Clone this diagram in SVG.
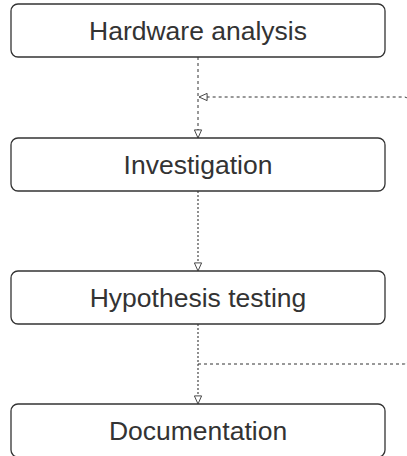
<svg xmlns="http://www.w3.org/2000/svg" width="407" height="456" viewBox="0 0 407 456">
<style>
.box{fill:#fff;stroke:#333;stroke-width:1.3}
.lbl{font-family:"Liberation Sans",Arial,sans-serif;font-size:26.5px;fill:#333;text-anchor:middle}
.dash{fill:none;stroke:#333;stroke-width:1;stroke-dasharray:3 3}
.dot{fill:none;stroke:#555;stroke-width:1.3;stroke-dasharray:2 2}
</style>
<defs>
<marker id="tri" viewBox="0 0 10 10" refX="9.5" refY="5" markerWidth="9" markerHeight="9" markerUnits="userSpaceOnUse" orient="auto">
<path d="M0.5,1 L9.5,5 L0.5,9 Z" fill="#fff" stroke="#333" stroke-width="1"/>
</marker>
</defs>
<rect width="407" height="456" fill="#fff"/>
<g id="connectors">
<path class="dash" d="M198,57 V138" marker-end="url(#tri)"/>
<path class="dot" d="M198,191 V271" marker-end="url(#tri)"/>
<path class="dot" d="M198,324 V404" marker-end="url(#tri)"/>
<path class="dash" d="M198,364 H404 Q408,364 408,360 V101 Q408,97 404,97 H199" marker-end="url(#tri)"/>
</g>
<g id="n1"><rect class="box" x="11" y="4" width="374" height="53" rx="7"/><text class="lbl" x="198" y="39.5">Hardware analysis</text></g>
<g id="n2"><rect class="box" x="11" y="138" width="374" height="53" rx="7"/><text class="lbl" x="198" y="173.5">Investigation</text></g>
<g id="n3"><rect class="box" x="11" y="271" width="374" height="53" rx="7"/><text class="lbl" x="198" y="306.5">Hypothesis testing</text></g>
<g id="n4"><rect class="box" x="11" y="404" width="374" height="53" rx="7"/><text class="lbl" x="198" y="439.5">Documentation</text></g>
</svg>
